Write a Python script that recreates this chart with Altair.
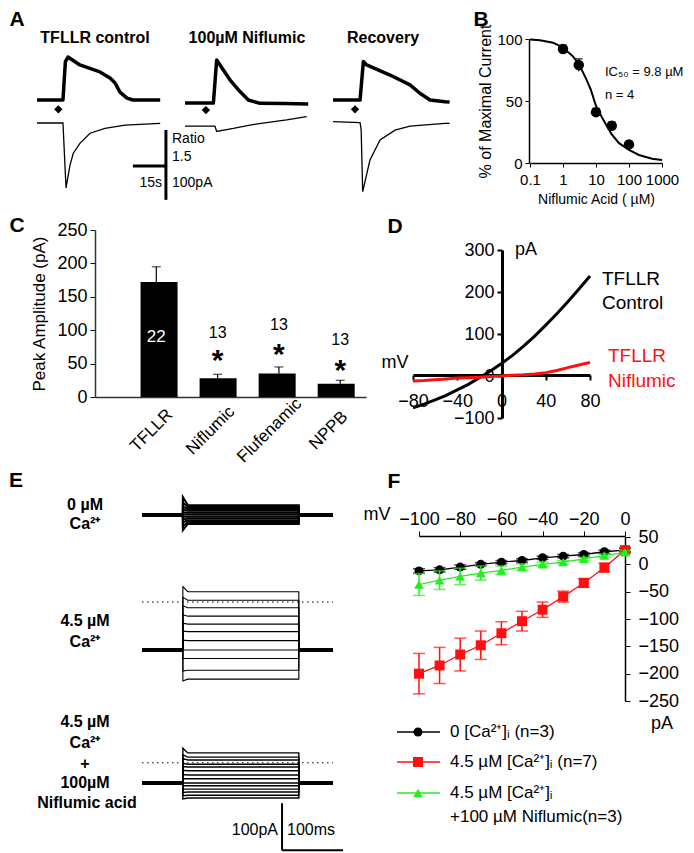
import altair as alt
import pandas as pd

FONT = "Liberation Sans"
W, H = 678, 845
M = 8

# ---------------- Panel A : ratio (upper) and current (lower) traces ----------------
a1_t = [0, 6, 11.8, 12.9, 14.1, 19.5, 28.6, 33.2, 35.5, 37.7, 40.9, 43.6, 50, 56]
a1_ratio = [1.0, 1.0, 1.0, 2.6, 2.79, 2.46, 2.17, 1.92, 1.71, 1.33, 1.08, 1.0, 1.0, 1.0]
a1_it = [0, 11.8, 13.2, 15.0, 16.5, 19.5, 24.1, 30.9, 40.0, 56]
a1_i = [0, 0, -191, -124, -89, -60, -30, -16, -6, -1]

a2_t = [0, 12.9, 14.4, 15.9, 20.5, 25.0, 28.8, 34.1, 45, 56]
a2_ratio = [0.87, 0.87, 2.67, 2.46, 1.83, 1.35, 1.0, 0.86, 0.85, 0.83]
a2_it = [0, 13.6, 14.4, 22.0, 29.5, 37.1, 46.2, 55.3]
a2_i = [-9, -9, -25, -16, -6, 1, 9, 19]

a3_t = [0, 12.3, 13.8, 15.3, 25.9, 35.0, 39.5, 44.1, 50.9, 53]
a3_ratio = [1.0, 1.0, 2.6, 2.46, 2.04, 1.63, 1.28, 1.0, 0.93, 0.92]
a3_it = [0, 12.3, 12.8, 13.5, 16.8, 21.4, 28.2, 35.0, 50.9, 53]
a3_i = [4, 1, -20, -202, -109, -50, -21, -9, -1, -1]

a_stim_t = [9.7, 9.5, 10.0]
a_stim_ratio = [0.61, 0.58, 0.61]
a_sb_t = [43.6, 58.6]        # 15 s
a_sb_ratio = [-0.25, -1.75]  # ratio 1.5
a_sb_pA = [-126, -226]       # 100 pA
a_titles = ["TFLLR control", "100µM Niflumic", "Recovery"]

# ---------------- Panel B : dose response ----------------
b_conc = [1, 3, 10, 30, 100]
b_resp = [92, 79, 41, 30, 15]
b_err = [3, 5, 3, 3, 2]
b_fit_conc = [0.1, 0.2, 0.5, 1, 2, 3, 5, 7, 10, 15, 20, 30, 50, 100, 200, 500, 1000]
b_fit_resp = [99.5, 99, 97, 93, 86, 80, 68, 59, 46, 37, 31, 23, 16, 10.5, 6.5, 3.5, 2.4]

# ---------------- Panel C : peak amplitude ----------------
c_names = ["TFLLR", "Niflumic", "Flufenamic", "NPPB"]
c_mean = [172, 28, 35, 20]
c_sem = [23, 6, 10, 5]
c_n = ["22", "13", "13", "13"]
c_n_y = [90, 96, 108, 85]
c_star_y = [None, 65, 74, 50]

# ---------------- Panel D : I-V ramps ----------------
d_mv = [-80, -70, -60, -50, -40, -30, -20, -10, 0, 10, 20, 30, 40, 50, 60, 70, 80]
d_ctrl = [-76, -67, -57, -46, -33, -20, -4, 12, 30, 49, 71, 95, 121, 148, 177, 207, 238]
d_nif = [-12, -11, -9, -7, -5, -4, -3, -1, 0, 2, 3, 5, 8, 13, 20, 26, 32]

# ---------------- Panel E : voltage step families ----------------
e_step_t = [67, 67, 75, 257, 257]
e_g1_level = [21, 17, 13, 9, 5, 1, -3, -7, -11, -15, -19]
e_g1_onset = [38, 26, 18, 12, 6, 1, -4, -10, -16, -24, -32]
e_g2_level = [124, 106, 90, 72, 55, 39, 20, 0, -18, -43, -62]
e_g2_onset = [135, 112, 94, 75, 57, 40, 21, 0, -18, -45, -66]
e_g3_level = [64, 55, 49, 40, 34, 26, 17, 9, 0, -6, -13, -19, -26, -32]
e_g3_onset = [74, 60, 52, 42, 35, 27, 18, 9, 0, -6, -13, -20, -27, -34]
e_base_t0 = [0, 257]
e_base_t1 = [67, 313]
e_dot_pA = [None, 102, 43]
e_sb_t = [229.5, 329.5]   # 100 ms
e_sb_pA = [-43, -143]     # 100 pA

# ---------------- Panel F : step I-V ----------------
f_mv = [-100, -90, -80, -70, -60, -50, -40, -30, -20, -10, 0]
f_ca0 = [-12, -10, -5, 0, 4, 7, 12, 15, 18, 23, 26]
f_ca0_err = [4, 4, 4, 3, 3, 3, 3, 3, 3, 3, 3]
f_ca45 = [-200, -185, -165, -148, -126, -104, -83, -59, -34, -6, 26]
f_ca45_err = [37, 33, 30, 26, 21, 18, 14, 10, 8, 8, 5]
f_nif = [-37, -29, -22, -16, -11, -5, 0, 4, 10, 16, 22]
f_nif_err = [20, 17, 15, 13, 8, 6, 4, 3, 3, 3, 3]
f_legend = ["0 [Ca²⁺]ᵢ (n=3)", "4.5 µM [Ca²⁺]ᵢ (n=7)", "4.5 µM [Ca²⁺]ᵢ"]

RED = "#ff1010"
GREEN = "#22ee22"


# ---------------- helpers (layout) ----------------
def S(domain, r0, r1, stype="linear"):
    kw = dict(type=stype, domain=domain, range=[r0 - M, r1 - M], nice=False)
    if stype == "linear":
        kw["zero"] = False
    return alt.Scale(**kw)


AX = dict(grid=False, domainColor="black", tickColor="black", labelColor="black",
          titleColor="black", labelFont=FONT, titleFont=FONT, titleFontWeight="normal",
          labelOverlap=False, labelFlush=False)


def ax_left(xp, **kw):
    return alt.Axis(orient="left", offset=-(xp - M), **{**AX, **kw})


def ax_right(xp, **kw):
    return alt.Axis(orient="right", offset=(xp - M) - W, **{**AX, **kw})


def ax_bottom(yp, **kw):
    return alt.Axis(orient="bottom", offset=(yp - M) - H, **{**AX, **kw})


def ax_top(yp, **kw):
    return alt.Axis(orient="top", offset=-(yp - M), **{**AX, **kw})


ONE = pd.DataFrame({"k": [0]})


def label(text, x, y, size=15, weight="normal", align="center", color="black", angle=0):
    return alt.Chart(ONE).mark_text(text=text, fontSize=size, fontWeight=weight, align=align,
                                    baseline="middle", color=color, angle=angle, font=FONT).encode(
        x=alt.value(x - M), y=alt.value(y - M))


layers = []

# ================= Panel A =================
yR = S([0, 3], 124, 52)
yI = S([-250, 0], 208, 123)
starts = [37, 185, 333]
traces = [(a1_t, a1_ratio, a1_it, a1_i), (a2_t, a2_ratio, a2_it, a2_i), (a3_t, a3_ratio, a3_it, a3_i)]
xA = []
for k, (tt, rr, it, ii) in enumerate(traces):
    xs = S([0, 56], starts[k], starts[k] + 123.2)
    xA.append(xs)
    layers.append(alt.Chart(pd.DataFrame({"t": tt, "r": rr})).mark_line(
        color="black", strokeWidth=3.5, strokeJoin="round").encode(
        x=alt.X("t:Q", scale=xs, axis=None), y=alt.Y("r:Q", scale=yR, axis=None)))
    layers.append(alt.Chart(pd.DataFrame({"t": it, "i": ii})).mark_line(
        color="black", strokeWidth=1.3).encode(
        x=alt.X("t:Q", scale=xs, axis=None), y=alt.Y("i:Q", scale=yI, axis=None)))
    layers.append(alt.Chart(pd.DataFrame({"t": [a_stim_t[k]], "r": [a_stim_ratio[k]]})).mark_point(
        shape="diamond", filled=True, size=70, color="black", opacity=1).encode(
        x=alt.X("t:Q", scale=xs, axis=None), y=alt.Y("r:Q", scale=yR, axis=None)))

# scale bars (in trace-1 coordinates)
layers.append(alt.Chart(pd.DataFrame({"t0": [a_sb_t[0]], "t1": [a_sb_t[1]], "r": [a_sb_ratio[1]]})).mark_rule(
    color="black", strokeWidth=3).encode(
    x=alt.X("t0:Q", scale=xA[0], axis=None), x2="t1:Q", y=alt.Y("r:Q", scale=yR, axis=None)))
layers.append(alt.Chart(pd.DataFrame({"t": [a_sb_t[1]], "r0": [a_sb_ratio[0]], "r1": [a_sb_ratio[1]]})).mark_rule(
    color="black", strokeWidth=3).encode(
    x=alt.X("t:Q", scale=xA[0], axis=None), y=alt.Y("r0:Q", scale=yR, axis=None), y2="r1:Q"))
layers.append(alt.Chart(pd.DataFrame({"t": [a_sb_t[1]], "i0": [a_sb_pA[0]], "i1": [a_sb_pA[1]]})).mark_rule(
    color="black", strokeWidth=3).encode(
    x=alt.X("t:Q", scale=xA[0], axis=None), y=alt.Y("i0:Q", scale=yI, axis=None), y2="i1:Q"))

layers += [
    label("A", 17, 20, size=21, weight="bold"),
    label(a_titles[0], 95, 38, size=16, weight="bold"),
    label(a_titles[1], 247, 38, size=16, weight="bold"),
    label(a_titles[2], 383, 38, size=16, weight="bold"),
    label("Ratio", 172, 139, size=14, align="left"),
    label("1.5", 172, 157, size=14, align="left"),
    label("100pA", 172, 183, size=14, align="left"),
    label("15s", 162, 183, size=14, align="right"),
]

# ================= Panel B =================
xB = S([0.1, 1000], 530, 662, "log")
yB = S([0, 100], 163, 39)
layers.append(alt.Chart(pd.DataFrame({"c": b_fit_conc, "r": b_fit_resp})).mark_line(
    color="black", strokeWidth=2).encode(
    x=alt.X("c:Q", scale=xB, axis=ax_bottom(163, values=[0.1, 1, 10, 100, 1000],
                                            labelExpr="toString(datum.value)", labelFontSize=15,
                                            tickSize=4, labelPadding=5, domainWidth=1.5,
                                            title="Niflumic Acid ( µM)", titleFontSize=14,
                                            titlePadding=5)),
    y=alt.Y("r:Q", scale=yB, axis=ax_left(529, values=[0, 50, 100], labelFontSize=15, tickSize=4,
                                         labelPadding=3, domainWidth=1.5,
                                         title="% of Maximal Current", titleFontSize=16,
                                         titlePadding=3))))
dfB = pd.DataFrame({"c": b_conc, "r": b_resp,
                    "lo": [r - e for r, e in zip(b_resp, b_err)],
                    "hi": [r + e for r, e in zip(b_resp, b_err)]})
layers.append(alt.Chart(dfB).mark_rule(color="black", strokeWidth=1.5).encode(
    x=alt.X("c:Q", scale=xB, axis=None), y=alt.Y("lo:Q", scale=yB, axis=None), y2="hi:Q"))
layers.append(alt.Chart(dfB).mark_tick(color="black", orient="horizontal", size=8, thickness=1.5).encode(
    x=alt.X("c:Q", scale=xB, axis=None), y=alt.Y("hi:Q", scale=yB, axis=None)))
layers.append(alt.Chart(dfB).mark_circle(color="black", size=110, opacity=1).encode(
    x=alt.X("c:Q", scale=xB, axis=None), y=alt.Y("r:Q", scale=yB, axis=None)))
layers += [
    label("B", 481, 20, size=21, weight="bold"),
    label("IC₅₀ = 9.8 µM", 605, 72, size=13, align="left"),
    label("n = 4", 605, 95, size=13, align="left"),
]

# ================= Panel C =================
xC = S([0, 4.42], 95, 366)
yC = S([0, 250], 397, 230)
c_pos = list(range(1, len(c_names) + 1))
dfC = pd.DataFrame({"p": c_pos, "m": c_mean, "hi": [m + s for m, s in zip(c_mean, c_sem)],
                    "n": c_n, "ny": c_n_y})
lab_expr = "[" + ",".join("'%s'" % n for n in [""] + c_names) + "][datum.value]"
layers.append(alt.Chart(dfC).mark_rule(color="black", strokeWidth=1.2).encode(
    x=alt.X("p:Q", scale=xC, axis=None), y=alt.Y("m:Q", scale=yC, axis=None), y2="hi:Q"))
layers.append(alt.Chart(dfC).mark_tick(color="black", orient="horizontal", size=9, thickness=1.2).encode(
    x=alt.X("p:Q", scale=xC, axis=None), y=alt.Y("hi:Q", scale=yC, axis=None)))
layers.append(alt.Chart(dfC).mark_bar(color="black", size=37).encode(
    x=alt.X("p:Q", scale=xC, axis=ax_bottom(397, values=c_pos, labelExpr=lab_expr, labelAngle=315,
                                            labelAlign="center", labelBaseline="middle",
                                            labelFontSize=17, tickSize=0, labelPadding=33,
                                            labelOffset=-8, domainWidth=1.5, domainColor="#333",
                                            title=None)),
    y=alt.Y("m:Q", scale=yC, axis=ax_left(95, values=[0, 50, 100, 150, 200, 250], labelFontSize=18,
                                         tickSize=5, labelPadding=3, domainWidth=1.5,
                                         domainColor="#333", title="Peak Amplitude (pA)",
                                         titleFontSize=17, titlePadding=8)),
    y2=alt.datum(0)))
layers.append(alt.Chart(dfC.iloc[[0]]).mark_text(color="white", fontSize=17, font=FONT).encode(
    x=alt.X("p:Q", scale=xC, axis=None), y=alt.Y("ny:Q", scale=yC, axis=None), text="n:N"))
layers.append(alt.Chart(dfC.iloc[1:]).mark_text(color="black", fontSize=16, font=FONT).encode(
    x=alt.X("p:Q", scale=xC, axis=None), y=alt.Y("ny:Q", scale=yC, axis=None), text="n:N"))
dfStar = pd.DataFrame({"p": c_pos[1:], "s": c_star_y[1:]})
layers.append(alt.Chart(dfStar).mark_text(text="*", color="black", fontSize=30, fontWeight="bold",
                                          font=FONT, dy=7).encode(
    x=alt.X("p:Q", scale=xC, axis=None), y=alt.Y("s:Q", scale=yC, axis=None)))
layers.append(label("C", 17, 226, size=21, weight="bold"))

# ================= Panel D =================
xD = S([-80, 80], 413, 590)
yD = S([-100, 300], 418, 250)
dfD = pd.DataFrame({"v": d_mv, "c": d_ctrl, "n": d_nif})
layers.append(alt.Chart(dfD).mark_line(color="black", strokeWidth=3).encode(
    x=alt.X("v:Q", scale=xD, axis=ax_bottom(375, values=[-80, -40, 0, 40, 80], labelFontSize=18,
                                           tickSize=5, tickWidth=2, labelPadding=12, domainWidth=3,
                                           title=None)),
    y=alt.Y("c:Q", scale=yD, axis=ax_left(502, values=[-100, 0, 100, 200, 300], labelFontSize=18,
                                         tickSize=5, tickWidth=2, labelPadding=3, domainWidth=3,
                                         title=None))))
layers.append(alt.Chart(dfD).mark_line(color=RED, strokeWidth=3).encode(
    x=alt.X("v:Q", scale=xD, axis=None), y=alt.Y("n:Q", scale=yD, axis=None)))
layers += [
    label("D", 395, 227, size=21, weight="bold"),
    label("pA", 515, 250, size=18, align="left"),
    label("mV", 395, 363, size=18),
    label("TFLLR", 602, 279, size=19, align="left"),
    label("Control", 602, 303, size=19, align="left"),
    label("TFLLR", 608, 356, size=19, align="left", color=RED),
    label("Niflumic", 608, 381, size=19, align="left", color=RED),
]

# ================= Panel E =================
xE = S([0, 313], 142, 333)
yE = [S([-100, 100], 562, 468), S([-100, 100], 697, 603), S([-100, 100], 830, 736)]
groups = [(e_g1_level, e_g1_onset), (e_g2_level, e_g2_onset), (e_g3_level, e_g3_onset)]
e_widths = [2.0, 1.1, 1.4]
for g, (lev, ons) in enumerate(groups):
    rows = []
    for j, (L, O) in enumerate(zip(lev, ons)):
        vals = [0, O, L, L, 0]
        for idx, (t, v) in enumerate(zip(e_step_t, vals)):
            rows.append({"tr": j, "o": idx, "t": t, "v": v})
    layers.append(alt.Chart(pd.DataFrame(rows)).mark_line(color="black", strokeWidth=e_widths[g]).encode(
        x=alt.X("t:Q", scale=xE, axis=None), y=alt.Y("v:Q", scale=yE[g], axis=None),
        detail="tr:N", order="o:Q"))
    layers.append(alt.Chart(pd.DataFrame({"t0": e_base_t0, "t1": e_base_t1, "v": [0, 0]})).mark_rule(
        color="black", strokeWidth=4).encode(
        x=alt.X("t0:Q", scale=xE, axis=None), x2="t1:Q", y=alt.Y("v:Q", scale=yE[g], axis=None)))
    if e_dot_pA[g] is not None:
        layers.append(alt.Chart(pd.DataFrame({"t0": [0], "t1": [313], "v": [e_dot_pA[g]]})).mark_rule(
            color="black", strokeWidth=1, strokeDash=[1.5, 3.5]).encode(
            x=alt.X("t0:Q", scale=xE, axis=None), x2="t1:Q", y=alt.Y("v:Q", scale=yE[g], axis=None)))
layers.append(alt.Chart(pd.DataFrame({"t": [e_sb_t[0]], "v0": [e_sb_pA[0]], "v1": [e_sb_pA[1]]})).mark_rule(
    color="black", strokeWidth=2).encode(
    x=alt.X("t:Q", scale=xE, axis=None), y=alt.Y("v0:Q", scale=yE[2], axis=None), y2="v1:Q"))
layers.append(alt.Chart(pd.DataFrame({"t0": [e_sb_t[0]], "t1": [e_sb_t[1]], "v": [e_sb_pA[1]]})).mark_rule(
    color="black", strokeWidth=2).encode(
    x=alt.X("t0:Q", scale=xE, axis=None), x2="t1:Q", y=alt.Y("v:Q", scale=yE[2], axis=None)))
layers += [
    label("E", 16, 481, size=21, weight="bold"),
    label("0 µM", 85, 505, size=16, weight="bold"),
    label("Ca²⁺", 85, 524, size=16, weight="bold"),
    label("4.5 µM", 85, 621, size=16, weight="bold"),
    label("Ca²⁺", 85, 642, size=16, weight="bold"),
    label("4.5 µM", 85, 722, size=16, weight="bold"),
    label("Ca²⁺", 85, 743, size=16, weight="bold"),
    label("+", 85, 764, size=16, weight="bold"),
    label("100µM", 85, 783, size=16, weight="bold"),
    label("Niflumic acid", 87, 803, size=16, weight="bold"),
    label("100pA", 278, 830, size=16, align="right"),
    label("100ms", 287, 830, size=16, align="left"),
]

# ================= Panel F =================
xF = S([-100, 0], 419, 625)
yF = S([-250, 50], 701, 537)
series = [(f_ca0, f_ca0_err, "black", "circle", 80),
          (f_ca45, f_ca45_err, RED, "square", 100),
          (f_nif, f_nif_err, GREEN, "triangle-up", 95)]
first = True
for vals, errs, col, shp, sz in series:
    df = pd.DataFrame({"v": f_mv, "i": vals,
                       "lo": [a - e for a, e in zip(vals, errs)],
                       "hi": [a + e for a, e in zip(vals, errs)]})
    if first:
        xenc = alt.X("v:Q", scale=xF, axis=ax_top(536, values=[-100, -80, -60, -40, -20, 0],
                                                  labelFontSize=18, tickSize=5, labelPadding=3,
                                                  domainWidth=1.5, title=None))
        yenc = alt.Y("i:Q", scale=yF, axis=ax_right(625, values=[-250, -200, -150, -100, -50, 0, 50],
                                                    labelFontSize=18, tickSize=5, labelPadding=8,
                                                    domainWidth=1.5, title=None))
        first = False
    else:
        xenc = alt.X("v:Q", scale=xF, axis=None)
        yenc = alt.Y("i:Q", scale=yF, axis=None)
    layers.append(alt.Chart(df).mark_line(color=col, strokeWidth=1.3).encode(x=xenc, y=yenc))
    layers.append(alt.Chart(df).mark_rule(color=col, strokeWidth=1.5).encode(
        x=alt.X("v:Q", scale=xF, axis=None), y=alt.Y("lo:Q", scale=yF, axis=None), y2="hi:Q"))
    for cap in ["lo", "hi"]:
        layers.append(alt.Chart(df).mark_tick(color=col, orient="horizontal", size=12, thickness=1.5).encode(
            x=alt.X("v:Q", scale=xF, axis=None), y=alt.Y(cap + ":Q", scale=yF, axis=None)))
    layers.append(alt.Chart(df).mark_point(shape=shp, filled=True, size=sz, color=col, opacity=1).encode(
        x=alt.X("v:Q", scale=xF, axis=None), y=alt.Y("i:Q", scale=yF, axis=None)))

layers += [
    label("F", 394, 482, size=21, weight="bold"),
    label("mV", 377, 515, size=18),
    label("pA", 662, 724, size=18),
]
leg_y = [732, 762, 793]
for (vals, errs, col, shp, sz), ly, txt in zip(series, leg_y, f_legend):
    layers.append(alt.Chart(ONE).mark_rule(color=col, strokeWidth=1.3).encode(
        x=alt.value(397 - M), x2=alt.value(440 - M), y=alt.value(ly - M)))
    layers.append(alt.Chart(ONE).mark_point(shape=shp, filled=True, size=sz, color=col, opacity=1).encode(
        x=alt.value(418 - M), y=alt.value(ly - M)))
    layers.append(label(txt, 450, ly, size=17, align="left"))
layers.append(label("+100 µM Niflumic(n=3)", 450, 817, size=17, align="left"))

chart = alt.layer(*layers).resolve_scale(x="independent", y="independent").properties(
    width=W, height=H, autosize=alt.AutoSizeParams(type="none"), padding=0
).configure(font=FONT).configure_view(stroke=None)

chart.save("out.html", embed_options={"renderer": "svg", "actions": False})
